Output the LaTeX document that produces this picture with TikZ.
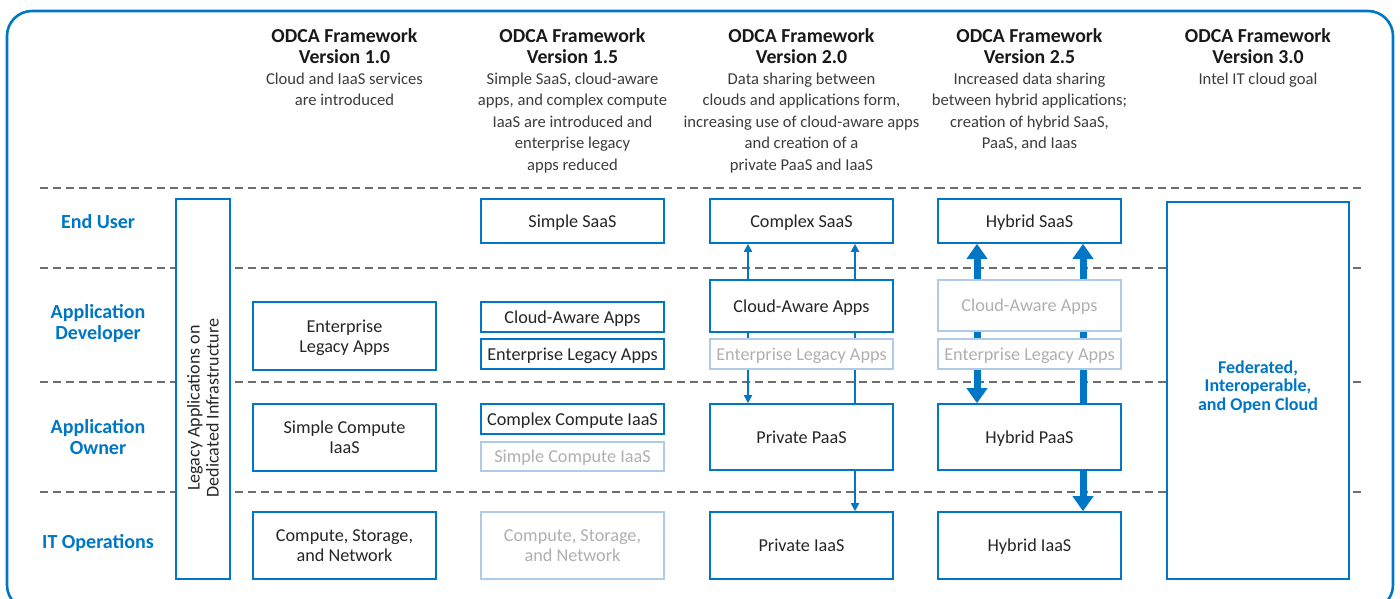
\documentclass[tikz,border=0pt]{standalone}
\usepackage{fontspec}
\setmainfont{Carlito}
\usepackage{xcolor}
\usepackage{tikz}
\usetikzlibrary{arrows.meta,backgrounds}

\definecolor{odcablue}{RGB}{0,118,198}
\definecolor{fadeblue}{RGB}{176,203,232}
\definecolor{fadegray}{RGB}{176,176,176}
\definecolor{textgray}{RGB}{38,38,38}
\definecolor{descgray}{RGB}{60,60,60}
\definecolor{sepgray}{RGB}{110,110,110}

\begin{document}
\begin{tikzpicture}[
  x=1pt, y=-1pt,
  box/.style={draw=odcablue, line width=1.6pt, fill=white, minimum width=183pt,
    inner sep=0pt, align=center, text=textgray, text depth=0pt, font=\fontsize{18.2}{20}\selectfont},
  faded/.style={box, draw=fadeblue, text=fadegray},
  role/.style={font=\bfseries\fontsize{20}{21}\selectfont, text=odcablue, align=center},
  head/.style={font=\bfseries\fontsize{19.8}{21}\selectfont, text=black!90, align=center},
  desc/.style={font=\fontsize{16.6}{21.5}\selectfont, text=descgray, align=center, anchor=north, inner sep=0pt},
  sep/.style={draw=sepgray, line width=1.6pt, dash pattern=on 8pt off 5pt},
  thinarr/.style={draw=odcablue, line width=1.8pt, -{Triangle[length=8pt,width=8pt]}},
  fatarr/.style={draw=odcablue, line width=7pt, -{Triangle[length=15pt,width=20pt]}}
]
  \useasboundingbox (0,0) rectangle (1400,598);
  \clip (0,0) rectangle (1400,598);

  % outer frame
  \draw[odcablue, line width=2.6pt, rounded corners=25pt] (7,11) rectangle (1393,610);

  % ===== HEADINGS =====
  \node[head] (h1) at (344.5,46.5) {ODCA Framework\\Version 1.0};
  \node[head] (h2) at (572.5,46.5) {ODCA Framework\\Version 1.5};
  \node[head] (h3) at (801.5,46.5) {ODCA Framework\\Version 2.0};
  \node[head] (h4) at (1029.5,46.5) {ODCA Framework\\Version 2.5};
  \node[head] (h5) at (1258,46.5) {ODCA Framework\\Version 3.0};

  \node[desc] (d1) at (344.5,72.5) {Cloud and IaaS services\\are introduced};
  \node[desc] (d2) at (572.5,72.5) {Simple SaaS, cloud-aware\\apps, and complex compute\\IaaS are introduced and\\enterprise legacy\\apps reduced};
  \node[desc] (d3) at (801.5,72.5) {Data sharing between\\clouds and applications form,\\increasing use of cloud-aware apps\\and creation of a\\private PaaS and IaaS};
  \node[desc] (d4) at (1029.5,72.5) {Increased data sharing\\between hybrid applications;\\creation of hybrid SaaS,\\PaaS, and Iaas};
  \node[desc] (d5) at (1258,72.5) {Intel IT cloud goal};

  % ===== ROLES =====
  \node[role] (eu) at (98,222) {End User};
  \node[role] (ad) at (98,323.5) {Application\\Developer};
  \node[role] (ao) at (98,437.5) {Application\\Owner};
  \node[role] (ops) at (98,543) {IT Operations};

  % legacy column
  \node[box, minimum width=54pt, minimum height=380pt] (legacy) at (203,389) {};
  \node[rotate=90, align=center, text=textgray, font=\fontsize{18}{19}\selectfont] (legacytxt) at (203,408)
    {Legacy Applications on\\Dedicated Infrastructure};

  % version 1.0
  \node[box, minimum height=68pt] (ela1) at (344.5,336) {Enterprise\\Legacy Apps};
  \node[box, minimum height=67pt] (sci1) at (344.5,437.5) {Simple Compute\\IaaS};
  \node[box, minimum height=67pt] (csn1) at (344.5,545.5) {Compute, Storage,\\and Network};

  % version 1.5
  \node[box, minimum height=44pt] (ss2) at (572.5,221) {Simple SaaS};
  \node[box, minimum height=30pt] (ca2) at (572.5,317) {Cloud-Aware Apps};
  \node[box, minimum height=30pt] (ela2) at (572.5,354) {Enterprise Legacy Apps};
  \node[box, minimum height=30pt] (cci2) at (572.5,419) {Complex Compute IaaS};
  \node[faded, minimum height=29pt] (sci2) at (572.5,456.5) {Simple Compute IaaS};
  \node[faded, minimum height=67pt] (csn2) at (572.5,545.5) {Compute, Storage,\\and Network};

  % version 2.0
  \node[box, minimum height=44pt] (cs3) at (801.5,221) {Complex SaaS};
  \node[box, minimum height=52pt] (ca3) at (801.5,306) {Cloud-Aware Apps};
  \node[faded, minimum height=30pt] (ela3) at (801.5,354) {Enterprise Legacy Apps};
  \node[box, minimum height=66pt] (pp3) at (801.5,437) {Private PaaS};
  \node[box, minimum height=67pt] (pi3) at (801.5,545.5) {Private IaaS};

  % version 2.5
  \node[box, minimum height=44pt] (hs4) at (1029.5,221) {Hybrid SaaS};
  \node[faded, minimum height=51pt] (ca4) at (1029.5,305.5) {Cloud-Aware Apps};
  \node[faded, minimum height=30pt] (ela4) at (1029.5,354) {Enterprise Legacy Apps};
  \node[box, minimum height=66pt] (hp4) at (1029.5,437) {Hybrid PaaS};
  \node[box, minimum height=67pt] (hi4) at (1029.5,545.5) {Hybrid IaaS};

  % version 3.0
  \node[box, minimum width=182pt, minimum height=377pt, text=odcablue, text depth=10pt,
    font=\bfseries\fontsize{18}{18.8}\selectfont] (fed) at (1258,390.5)
    {Federated,\\Interoperable,\\and Open Cloud};

  \begin{scope}[on background layer]
    % row separators
    \foreach \y in {188,268,382,492}
      \draw[sep] (40,\y) -- (1365,\y);

    % 2.0 flows
    \draw[thinarr] ([xshift=-53.5pt]ca3.north) -- ([xshift=-53.5pt]cs3.south);
    \draw[thinarr] ([xshift=-53.5pt]ca3.south) -- ([xshift=-53.5pt]pp3.north);
    \draw[thinarr] ([xshift=53.5pt]pp3.north) -- ([xshift=53.5pt]cs3.south);
    \draw[thinarr] ([xshift=53.5pt]pp3.south) -- ([xshift=53.5pt]pi3.north);

    % 2.5 flows
    \draw[fatarr] ([xshift=-52.5pt]ca4.north) -- ([xshift=-52.5pt]hs4.south);
    \draw[fatarr] ([xshift=-52.5pt]ca4.south) -- ([xshift=-52.5pt]hp4.north);
    \draw[fatarr] ([xshift=53.5pt]hp4.north) -- ([xshift=53.5pt]hs4.south);
    \draw[fatarr] ([xshift=53.5pt]hp4.south) -- ([xshift=53.5pt]hi4.north);
  \end{scope}
\end{tikzpicture}
\end{document}
